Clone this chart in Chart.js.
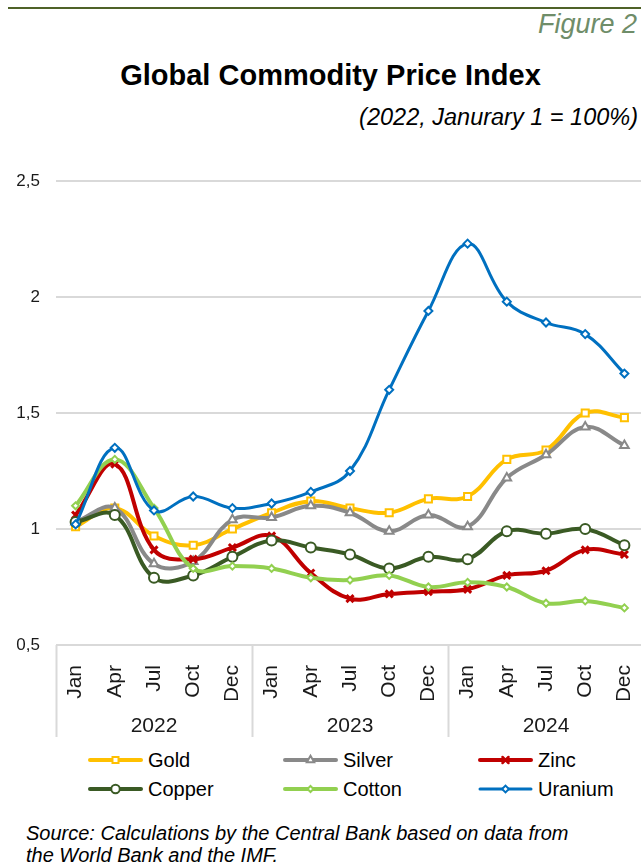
<!DOCTYPE html>
<html>
<head>
<meta charset="utf-8">
<script src="https://cdn.jsdelivr.net/npm/chart.js@4.4.1/dist/chart.umd.min.js"></script>
<style>
  html, body { margin: 0; padding: 0; background: #fff; overflow: hidden; }
  body { width: 641px; height: 865px; position: relative; font-family: "Liberation Sans", Arial, sans-serif; color: #000; }
  .abs { position: absolute; white-space: nowrap; }
  #topline { left: 8px; top: 7px; width: 633px; height: 2px; background: #4f6228; }
  #fig { right: 4px; top: 11px; font-size: 27px; line-height: 27px; font-style: italic; color: #6f8d69; }
  #title { left: 10px; width: 641px; top: 61px; text-align: center; font-size: 29px; line-height: 29px; font-weight: bold; }
  #subtitle { right: 3px; top: 106px; font-size: 23.5px; line-height: 23.5px; font-style: italic; }
  #wrap { left: 0; top: 170px; width: 644px; height: 570px; }
  .item { display: flex; align-items: center; height: 20px; font-size: 20px; line-height: 20px; }
  .item canvas { margin-right: 5px; }
  #source { left: 26px; top: 822px; font-size: 20px; line-height: 22px; font-style: italic; }
</style>
</head>
<body>
<div id="topline" class="abs"></div>
<div id="fig" class="abs">Figure 2</div>
<div id="title" class="abs">Global Commodity Price Index</div>
<div id="subtitle" class="abs">(2022, Janurary 1 = 100%)</div>
<div id="wrap" class="abs"><canvas id="chart"></canvas></div>
<div id="legend"></div>
<div id="source" class="abs">Source: Calculations by the Central Bank based on data from<br>the World Bank and the IMF.</div>

<script>
// categories
const months = ["Jan", "Apr", "Jul", "Oct", "Dec", "Jan", "Apr", "Jul", "Oct", "Dec", "Jan", "Apr", "Jul", "Oct", "Dec"];
const years = ["2022", "2023", "2024"];
const yTicks = [0.5, 1, 1.5, 2, 2.5];

// series (index, 2022 Jan = 1)
const gold    = [1.01, 1.09, 0.97, 0.93, 1.00, 1.07, 1.12, 1.09, 1.07, 1.13, 1.14, 1.30, 1.34, 1.50, 1.48];
const silver  = [1.03, 1.09, 0.85, 0.86, 1.04, 1.05, 1.10, 1.07, 0.99, 1.06, 1.01, 1.22, 1.32, 1.44, 1.36];
const zinc    = [1.06, 1.28, 0.91, 0.87, 0.92, 0.97, 0.81, 0.70, 0.72, 0.73, 0.74, 0.80, 0.82, 0.91, 0.89];
const copper  = [1.03, 1.06, 0.79, 0.80, 0.88, 0.95, 0.92, 0.89, 0.83, 0.88, 0.87, 0.99, 0.98, 1.00, 0.93];
const cotton  = [1.10, 1.30, 1.09, 0.83, 0.84, 0.83, 0.79, 0.78, 0.80, 0.75, 0.77, 0.75, 0.68, 0.69, 0.66];
const uranium = [1.02, 1.35, 1.08, 1.14, 1.09, 1.11, 1.16, 1.25, 1.60, 1.94, 2.23, 1.98, 1.89, 1.84, 1.67];

const series = [
  { label: "Gold",    data: gold,    color: "#ffc000", marker: "rect",     radius: 5,   width: 4 },
  { label: "Silver",  data: silver,  color: "#898989", marker: "triangle", radius: 5,   width: 4 },
  { label: "Zinc",    data: zinc,    color: "#c00000", marker: "crossRot", radius: 5,   width: 4 },
  { label: "Copper",  data: copper,  color: "#3a5a24", marker: "circle",   radius: 5,   width: 4 },
  { label: "Cotton",  data: cotton,  color: "#92d050", marker: "rectRot",  radius: 3.5, width: 4 },
  { label: "Uranium", data: uranium, color: "#0070c0", marker: "rectRot",  radius: 4,   width: 3 },
];

// separator lines between year groups (under the month labels)
const groupLines = {
  id: "groupLines",
  afterDraw(chart) {
    const xs = chart.scales.x;
    const step = xs.getPixelForValue(1) - xs.getPixelForValue(0);
    const ctx = chart.ctx;
    ctx.save();
    ctx.strokeStyle = "#d9d9d9";
    ctx.lineWidth = 2;
    [0, 5, 10, 15].forEach(k => {
      const x = Math.round(xs.getPixelForValue(k) - step / 2) + 0.5;
      ctx.beginPath();
      ctx.moveTo(x, chart.chartArea.bottom);
      ctx.lineTo(x, chart.chartArea.bottom + 92);
      ctx.stroke();
    });
    ctx.restore();
  }
};

const font = "'Liberation Sans', Arial, sans-serif";

// fixed axis sizes, no label overhang padding
const fixX = h => axis => { axis.height = h; axis.paddingLeft = 0; axis.paddingRight = 0; };

new Chart(document.getElementById("chart"), {
  type: "line",
  data: {
    labels: months,
    datasets: series.map((s, i) => ({
      label: s.label,
      data: s.data,
      borderColor: s.color,
      borderWidth: s.width,
      tension: 0.4,
      pointStyle: s.marker,
      pointRadius: s.radius,
      pointHoverRadius: s.radius,
      pointBackgroundColor: s.marker === "crossRot" ? s.color : "#ffffff",
      pointBorderColor: s.color,
      pointBorderWidth: s.marker === "crossRot" ? 3 : 2,
      order: series.length - i,
      xAxisID: "x",
    }))
  },
  options: {
    responsive: true,
    maintainAspectRatio: false,
    animation: false,
    layout: { autoPadding: false, padding: { top: 11, right: 0, left: 0, bottom: 0 } },
    plugins: {
      legend: { display: false },
      tooltip: { enabled: false },
    },
    scales: {
      y: {
        min: 0.5,
        max: 2.5,
        afterBuildTicks: axis => { axis.ticks = yTicks.map(v => ({ value: v })); },
        afterFit: axis => { axis.width = 56; axis.paddingTop = 0; axis.paddingBottom = 0; },
        ticks: {
          padding: 16,
          color: "#1a1a1a",
          font: { family: font, size: 17 },
          callback: v => String(v).replace(".", ","),
        },
        grid: { color: "#d9d9d9", lineWidth: 2, drawTicks: false },
        border: { display: false },
      },
      x: {
        offset: true,
        afterFit: fixX(55),
        ticks: {
          minRotation: 90,
          maxRotation: 90,
          padding: 12,
          autoSkip: false,
          color: "#1a1a1a",
          font: { family: font, size: 21 },
        },
        grid: { display: false },
        border: { display: false },
      },
      x2: {
        type: "category",
        labels: years,
        position: "bottom",
        offset: true,
        afterFit: fixX(40),
        ticks: {
          padding: 6,
          color: "#1a1a1a",
          font: { family: font, size: 21 },
        },
        grid: { display: false },
        border: { display: false },
      },
    },
  },
  plugins: [groupLines],
});

// legend built from the same series list
const colsX = [88, 283, 478];
const rowsTop = [750, 779];
const legend = document.getElementById("legend");
series.forEach((s, i) => {
  const item = document.createElement("div");
  item.className = "item abs";
  item.style.left = colsX[i % 3] + "px";
  item.style.top = rowsTop[Math.floor(i / 3)] + "px";
  const c = document.createElement("canvas");
  c.width = 55; c.height = 14;
  const g = c.getContext("2d");
  g.strokeStyle = s.color;
  g.lineWidth = s.width;
  g.lineCap = "round";
  g.beginPath(); g.moveTo(2, 7); g.lineTo(53, 7); g.stroke();
  g.fillStyle = s.marker === "crossRot" ? s.color : "#ffffff";
  g.strokeStyle = s.color;
  g.lineWidth = s.marker === "crossRot" ? 2.5 : 2;
  Chart.helpers.drawPoint(g, { pointStyle: s.marker, radius: s.radius * 0.85, borderWidth: g.lineWidth }, 27.5, 7);
  item.appendChild(c);
  const t = document.createElement("span");
  t.textContent = s.label;
  item.appendChild(t);
  legend.appendChild(item);
});
</script>
</body>
</html>
